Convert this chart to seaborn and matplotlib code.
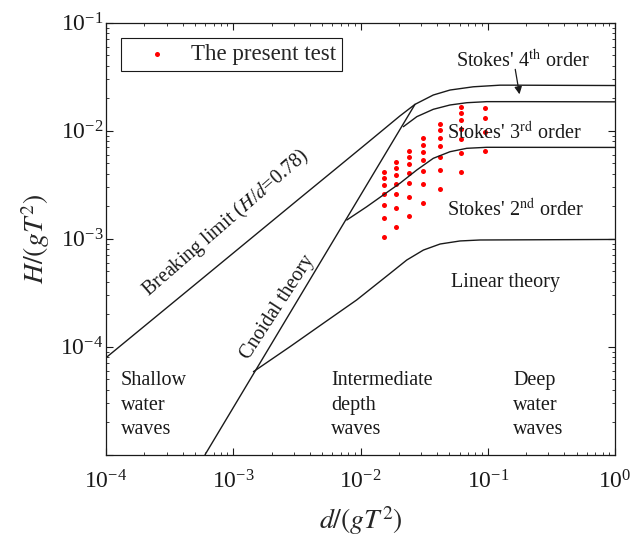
import numpy as np
import pandas as pd
import matplotlib
matplotlib.use("Agg")
import matplotlib.pyplot as plt
from matplotlib.ticker import LogLocator, NullFormatter, FuncFormatter
import seaborn as sns

# curves, d/(gT^2) and H/(gT^2)
breaking_x = [1.0e-4, 5.48e-4, 3.35e-3, 6.11e-3, 1.12e-2, 2.04e-2, 2.68e-2, 3.73e-2,
              5.05e-2, 7.69e-2, 0.125, 0.158, 0.370, 1.0]
breaking_y = [7.91e-5, 4.11e-4, 2.38e-3, 4.25e-3, 7.64e-3, 1.37e-2, 1.754e-2, 2.14e-2,
              2.38e-2, 2.55e-2, 2.64e-2, 2.64e-2, 2.63e-2, 2.62e-2]

stokes4_x = [2.17e-2, 2.77e-2, 3.73e-2, 5.05e-2, 6.84e-2, 9.82e-2, 0.179, 1.0]
stokes4_y = [1.089e-2, 1.349e-2, 1.578e-2, 1.73e-2, 1.816e-2, 1.858e-2, 1.858e-2, 1.85e-2]

stokes3_x = [7.80e-3, 1.119e-2, 1.51e-2, 2.04e-2, 2.77e-2, 3.73e-2, 5.05e-2, 6.84e-2, 9.82e-2, 1.0]
stokes3_y = [1.49e-3, 1.977e-3, 2.54e-3, 3.26e-3, 4.33e-3, 5.55e-3, 6.39e-3, 6.87e-3, 7.02e-3, 7.0e-3]

linear_x = [1.44e-3, 2.79e-3, 5.11e-3, 9.33e-3, 1.71e-2, 2.31e-2, 3.12e-2, 4.22e-2,
            6.05e-2, 8.69e-2, 1.0]
linear_y = [5.87e-5, 1.0e-4, 1.65e-4, 2.71e-4, 4.78e-4, 6.35e-4, 7.85e-4, 8.93e-4,
            9.53e-4, 9.73e-4, 9.84e-4]

cnoidal_x = [6.0e-4, 2.68e-2]
cnoidal_y = [1.0e-5, 1.754e-2]

# the present test points, one list per column
test_d = [0.0153, 0.0189, 0.0240, 0.0312, 0.0423, 0.0611, 0.0955]
test_H = [
    [0.00104, 0.00156, 0.00207, 0.00259, 0.00311, 0.00363, 0.00415],
    [0.00128, 0.00193, 0.00257, 0.00321, 0.00386, 0.00450, 0.00515],
    [0.00163, 0.00245, 0.00327, 0.00409, 0.00490, 0.00572, 0.00654],
    [0.00212, 0.00318, 0.00424, 0.00530, 0.00636, 0.00742, 0.00848],
    [0.00288, 0.00432, 0.00576, 0.00720, 0.00864, 0.01008, 0.01152],
    [0.00415, 0.00623, 0.00830, 0.01038, 0.01245, 0.01453, 0.01660],
    [0.0065, 0.0097, 0.0130, 0.0162],
]

sns.set_theme(style="ticks")
plt.rcParams["font.family"] = ["Liberation Serif", "DejaVu Serif"]
plt.rcParams["mathtext.fontset"] = "stix"

fig = plt.figure(figsize=(6.31, 5.43), dpi=100)
ax = fig.add_axes([0.168, 0.1626, 0.8067, 0.7956])

for xs, ys in [(breaking_x, breaking_y), (stokes4_x, stokes4_y), (stokes3_x, stokes3_y),
               (linear_x, linear_y), (cnoidal_x, cnoidal_y)]:
    sns.lineplot(x=xs, y=ys, sort=False, estimator=None, color="k", lw=1, ax=ax)

pts = pd.DataFrame({
    "d": np.concatenate([[d] * len(h) for d, h in zip(test_d, test_H)]),
    "H": np.concatenate(test_H),
})
sns.scatterplot(data=pts, x="d", y="H", color="red", s=13, linewidth=0, ax=ax,
                label="The present test")


def pow10(v, pos):
    if v < 1.5e-5:
        return ""
    return "$\\mathdefault{10^{%d}}$" % int(round(np.log10(v)))


ax.set_xscale("log")
ax.set_yscale("log")
ax.set_xlim(1e-4, 1)
ax.set_ylim(1e-5, 1e-1)
for axis in (ax.xaxis, ax.yaxis):
    axis.set_major_locator(LogLocator(base=10, numticks=10))
    axis.set_minor_locator(LogLocator(base=10, subs=np.arange(2, 10), numticks=20))
    axis.set_major_formatter(FuncFormatter(pow10))
    axis.set_minor_formatter(NullFormatter())
ax.tick_params(which="both", direction="in", top=True, right=True, colors="k", labelsize=17)
ax.tick_params(which="major", length=5, width=0.8)
ax.tick_params(which="minor", length=2.5, width=0.6)
ax.tick_params(axis="x", which="major", pad=11)
ax.tick_params(axis="y", which="major", pad=2)
for s in ax.spines.values():
    s.set_color("k")
    s.set_linewidth(0.9)

ax.set_xlabel("$d/(gT^2)$", fontsize=20, labelpad=8)
ax.set_ylabel("$H/(gT^2)$", fontsize=20, labelpad=6)

leg = ax.legend(loc="upper left", bbox_to_anchor=(0.029, 0.964), borderaxespad=0,
                fancybox=False, edgecolor="k", framealpha=1, fontsize=16.5,
                handlelength=2.7, handletextpad=0.12, borderpad=0.25)
leg.get_frame().set_linewidth(0.8)

txt = dict(fontsize=14.5, color="k")
ax.text(0.19, 0.0441, "Stokes' 4$^{\\rm th}$ order", ha="center", va="center", **txt)
ax.text(0.161, 0.00953, "Stokes' 3$^{\\rm rd}$ order", ha="center", va="center", **txt)
ax.text(0.1637, 0.001845, "Stokes' 2$^{\\rm nd}$ order", ha="center", va="center", **txt)
ax.text(0.1368, 3.89e-4, "Linear theory", ha="center", va="center", **txt)
ax.text(1.31e-4, 2.88e-5, "Shallow\nwater\nwaves", ha="left", va="center", linespacing=1.4, **txt)
ax.text(5.86e-3, 2.88e-5, "Intermediate\ndepth\nwaves", ha="left", va="center", linespacing=1.4, **txt)
ax.text(0.158, 2.88e-5, "Deep\nwater\nwaves", ha="left", va="center", linespacing=1.4, **txt)
ax.text(8.77e-4, 1.40e-3, "Breaking limit ($H$/$d$=0.78)", ha="center", va="center",
        rotation=41, rotation_mode="anchor", **txt)
ax.text(2.25e-3, 2.33e-4, "Cnoidal theory", ha="center", va="center",
        rotation=57, rotation_mode="anchor", **txt)

ax.annotate("", xy=(0.179, 0.0205), xytext=(0.163, 0.0392),
            arrowprops=dict(arrowstyle="-|>", color="k", lw=0.9, mutation_scale=11))

fig.savefig("out.png", dpi=100)
